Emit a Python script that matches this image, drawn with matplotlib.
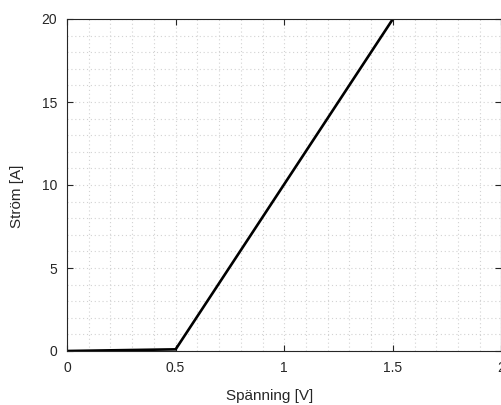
import numpy as np
import matplotlib.pyplot as plt
from matplotlib.ticker import MultipleLocator

plt.rcParams['font.family'] = ['Liberation Sans', 'DejaVu Sans']

# diode characteristic
voltage = [0.0, 0.5, 1.5]
current = [0.0, 0.1, 20.0]

fig = plt.figure(figsize=(5.02, 4.05), dpi=100)
ax = fig.add_axes([67/502, 1 - 351/405, (501.5-67)/502, (351-19)/405])

ax.plot(voltage, current, color='black', lw=1.9, solid_joinstyle='miter')

ax.set_xlim(0, 2)
ax.set_ylim(0, 20)
ax.set_xticks([0, 0.5, 1, 1.5, 2])
ax.set_xticklabels(['0', '0.5', '1', '1.5', '2'])
ax.set_yticks([0, 5, 10, 15, 20])
ax.xaxis.set_minor_locator(MultipleLocator(0.1))
ax.yaxis.set_minor_locator(MultipleLocator(1))
ax.grid(True, which='both', linestyle=(0, (1, 2.5)), color='#d2d2d2', lw=0.8)
ax.tick_params(which='major', direction='in', top=True, right=True, length=4,
               width=0.8, labelsize=10, colors='#262626', pad=7)
ax.tick_params(which='minor', length=0)
for s in ax.spines.values():
    s.set_color('#262626')
    s.set_linewidth(0.8)

ax.set_xlabel('Spänning [V]', fontsize=11, color='#262626', va='center')
ax.set_ylabel('Ström [A]', fontsize=11, color='#262626', va='center')
ax.xaxis.set_label_coords(0.467, -0.1355)
ax.yaxis.set_label_coords(-0.115, 0.467)

plt.savefig('out.png', dpi=100)
plt.close('all')
